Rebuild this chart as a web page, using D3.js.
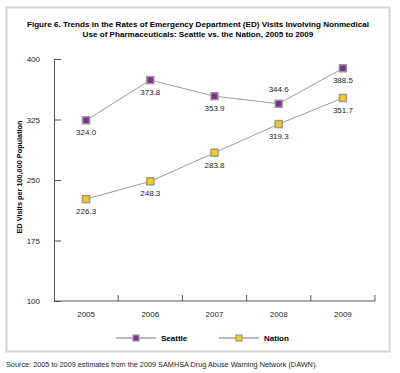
<!DOCTYPE html>
<html>
<head>
<meta charset="utf-8">
<script src="https://cdn.jsdelivr.net/npm/d3@7"></script>
<style>
body { margin: 0; background: #fff; }
svg { display: block; font-family: "Liberation Sans", Arial, sans-serif; }
</style>
</head>
<body>
<svg id="chart" width="400" height="373"></svg>
<script>
var years = ['2005', '2006', '2007', '2008', '2009']
var seattle = [324.0, 373.8, 353.9, 344.6, 388.5]
var nation = [226.3, 248.3, 283.8, 319.3, 351.7]
var yTicks = [100, 175, 250, 325, 400]
// which seattle labels sit above the point
var seattleAbove = [false, false, false, true, false]

var titleLines = [
	'Figure 6. Trends in the Rates of Emergency Department (ED) Visits Involving Nonmedical',
	'Use of Pharmaceuticals: Seattle vs. the Nation, 2005 to 2009'
]
var sourceText = 'Source: 2005 to 2009 estimates from the 2009 SAMHSA Drug Abuse Warning Network (DAWN).'

var series = [
	{name: 'Seattle', values: seattle, fill: '#7e2f8e'},
	{name: 'Nation', values: nation, fill: '#ffcc00'}
]

var svg = d3.select('#chart')

var margin = {left: 54, right: 25, top: 59, bottom: 72}
var width = 400 - margin.left - margin.right
var height = 373 - margin.top - margin.bottom

// frame
svg.append('rect')
	.attr('x', 6.5).attr('y', 7.5)
	.attr('width', 383).attr('height', 344)
	.attr('fill', 'none')
	.attr('stroke', '#d4d4d4')
	.attr('stroke-width', 2)

svg.selectAll('.title').data(titleLines).enter()
	.append('text')
	.attr('class', 'title')
	.attr('x', 198)
	.attr('y', (d, i) => 27 + i * 10)
	.attr('text-anchor', 'middle')
	.style('font-size', '8.1px')
	.style('font-weight', 'bold')
	.text(d => d)

var g = svg.append('g')
	.attr('transform', 'translate(' + margin.left + ',' + margin.top + ')')

var x = d3.scaleBand().domain(years).range([0, width])
var y = d3.scaleLinear().domain([100, 400]).range([height, 0])

// y axis, ticks pointing inward
var yAxis = g.append('g')
	.call(d3.axisLeft(y).tickValues(yTicks).tickSizeInner(-7).tickSizeOuter(0).tickPadding(14))
yAxis.select('.domain').attr('stroke', '#555')
yAxis.selectAll('.tick line').attr('stroke', '#555')
yAxis.selectAll('.tick text').style('font-size', '8px').attr('fill', '#222')

// x axis: ticks at band edges, pointing up
var xAxis = g.append('g')
	.attr('transform', 'translate(0,' + height + ')')
xAxis.append('line')
	.attr('x1', 0).attr('x2', width)
	.attr('stroke', '#555')
xAxis.selectAll('.edge').data(years).enter()
	.append('line')
	.attr('class', 'edge')
	.attr('x1', d => x(d) + x.bandwidth()).attr('x2', d => x(d) + x.bandwidth())
	.attr('y1', 0).attr('y2', -6)
	.attr('stroke', '#555')
xAxis.selectAll('.lab').data(years).enter()
	.append('text')
	.attr('class', 'lab')
	.attr('x', d => x(d) + x.bandwidth() / 2)
	.attr('y', 16)
	.attr('text-anchor', 'middle')
	.style('font-size', '8px')
	.attr('fill', '#222')
	.text(d => d)

svg.append('text')
	.attr('transform', 'translate(22,177)rotate(-90)')
	.attr('text-anchor', 'middle')
	.style('font-size', '7.3px')
	.style('font-weight', 'bold')
	.text('ED Visits per 100,000 Population')

var line = d3.line()
	.x((d, i) => x(years[i]) + x.bandwidth() / 2)
	.y(d => y(d))

series.forEach(function(s, si) {
	g.append('path')
		.datum(s.values)
		.attr('d', line)
		.attr('fill', 'none')
		.attr('stroke', '#9a9a9a')
		.attr('stroke-width', 1)

	g.selectAll('.m' + si).data(s.values).enter()
		.append('rect')
		.attr('class', 'm' + si)
		.attr('x', (d, i) => x(years[i]) + x.bandwidth() / 2 - 3.5)
		.attr('y', d => y(d) - 3.5)
		.attr('width', 7).attr('height', 7)
		.attr('fill', s.fill)
		.attr('stroke', '#999')
		.attr('stroke-width', 1.5)

	g.selectAll('.v' + si).data(s.values).enter()
		.append('text')
		.attr('class', 'v' + si)
		.attr('x', (d, i) => x(years[i]) + x.bandwidth() / 2)
		.attr('y', (d, i) => (si == 0 && seattleAbove[i]) ? y(d) - 12 : y(d) + 15)
		.attr('text-anchor', 'middle')
		.style('font-size', '8px')
		.attr('fill', '#222')
		.text(d => d.toFixed(1))
})

// legend
var legend = svg.selectAll('.legend').data(series).enter()
	.append('g')
	.attr('class', 'legend')
	.attr('transform', (d, i) => 'translate(' + (116 + i * 103) + ',338)')
legend.append('line')
	.attr('x1', 0).attr('x2', 40)
	.attr('stroke', '#777')
legend.append('rect')
	.attr('x', 17).attr('y', -3)
	.attr('width', 6).attr('height', 6)
	.attr('fill', d => d.fill)
	.attr('stroke', '#999')
	.attr('stroke-width', 1.2)
legend.append('text')
	.attr('x', 45).attr('y', 3)
	.style('font-size', '8px')
	.style('font-weight', 'bold')
	.text(d => d.name)

svg.append('text')
	.attr('x', 6).attr('y', 367)
	.style('font-size', '7.3px')
	.attr('fill', '#222')
	.text(sourceText)
</script>
</body>
</html>
